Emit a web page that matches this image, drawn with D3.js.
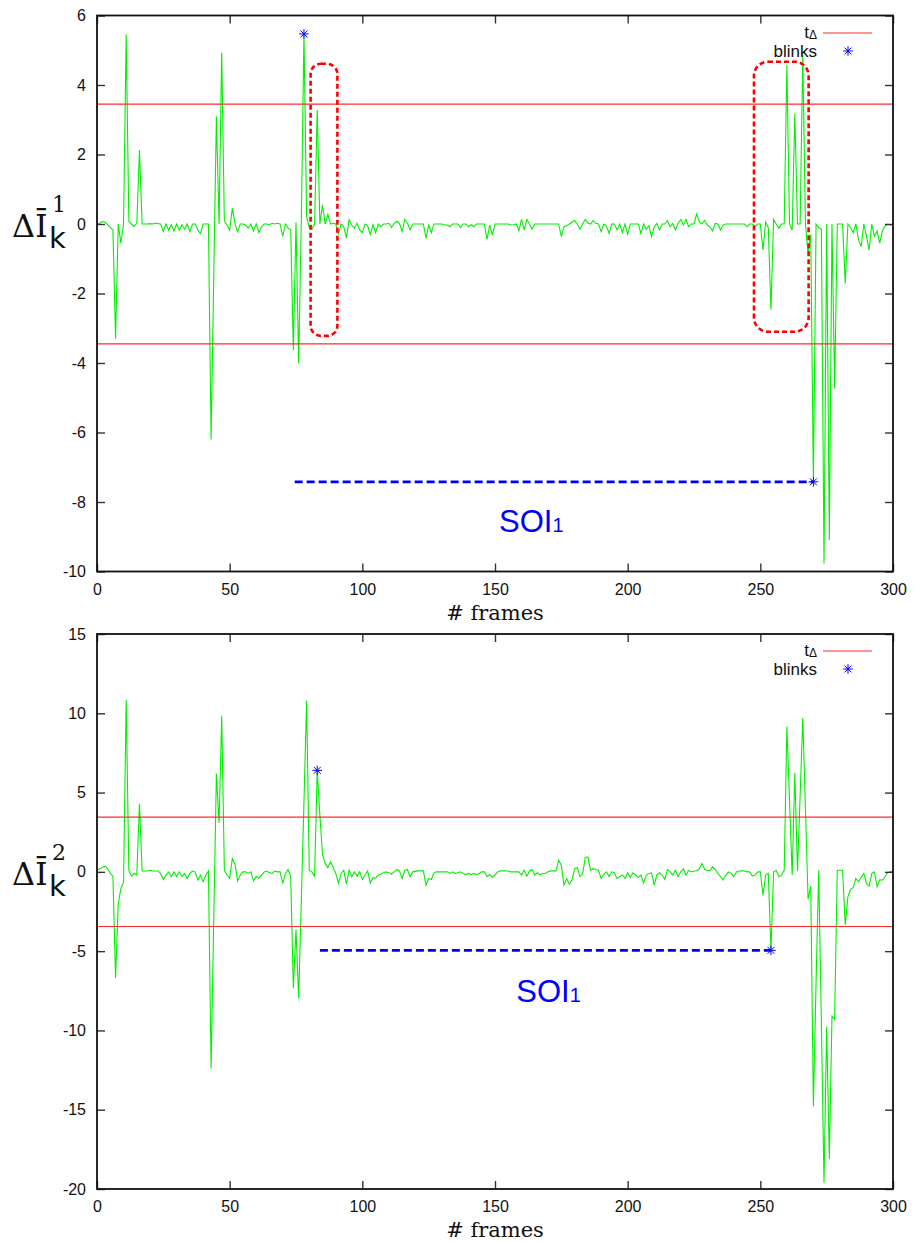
<!DOCTYPE html>
<html><head><meta charset="utf-8">
<script src="https://cdn.jsdelivr.net/npm/d3@7"></script>
<style>body{margin:0;background:#fff}</style>
</head><body>
<svg id="chart" width="915" height="1242"></svg>
<script>
// ---- DATA ----
const xTicks = [0, 50, 100, 150, 200, 250, 300];
const yTicksTop = [-10, -8, -6, -4, -2, 0, 2, 4, 6];
const yTicksBottom = [-20, -15, -10, -5, 0, 5, 10, 15];
const threshold = 3.45;

// mean intensity difference per frame (index = frame number 0..300)
const seriesTop = [
 0,0.02,0.07,0.05,-0.02,-0.1,-0.17,-3.3,0,-0.55,
 0,5.45,0.08,0,-0.07,0.02,2.13,0,0,0,
 0.01,0,0.03,0.01,0,-0.22,0,-0.18,-0.02,-0.2,
 0,-0.18,-0.02,-0.15,0,-0.22,0,0,-0.17,-0.28,
 0,0,0,-6.2,-1.5,3.09,0,4.93,0.08,-0.02,
 -0.18,0.45,0.02,-0.22,0,0,-0.03,-0.12,0,-0.2,
 0,-0.25,-0.08,0,0,-0.02,0.02,0,0.02,0,
 -0.36,0,-0.12,-0.17,-3.63,0.05,-4.01,0.07,5.47,0.2,
 -0.1,-0.15,0,3.28,0,0.55,0,0.28,0,0.02,
 0,-0.3,0,-0.08,-0.4,0.12,-0.03,-0.12,0.02,-0.17,
 -0.25,0,-0.05,-0.3,-0.02,-0.25,0,-0.08,0,0,
 0.02,-0.1,0.02,0.08,0.02,-0.22,0.13,0.02,-0.17,0,
 0,0,0,0,-0.41,-0.03,-0.25,0,0,0,
 0,-0.03,-0.03,-0.08,0,0,0,-0.1,0,0,
 -0.08,-0.02,-0.08,0,0,0,0,-0.44,-0.03,-0.32,
 0,0,0,0,0,0,-0.03,-0.02,0,-0.2,
 0.13,-0.17,0.13,0,-0.15,0,0,0,0,0,
 0,0,0,0,0,-0.36,-0.08,-0.05,0,0.05,
 0.1,0,-0.15,0,0.13,0.03,0,0.1,0.02,0,
 -0.22,0,-0.05,-0.27,0,0,-0.17,0,-0.25,0,
 -0.29,0,0,0,0,-0.27,0,-0.15,-0.05,-0.36,
 -0.08,0.02,-0.17,0,0,0.1,-0.08,0.02,-0.17,0.02,
 0.13,-0.03,0.13,-0.08,0,0,0.29,0.07,0,0.1,
 -0.03,-0.08,-0.2,0.02,0,-0.17,-0.03,0,0,0,
 0,0,0,0,0,-0.08,0,0,-0.08,0,
 0,-0.75,0.05,-0.1,-2.47,0.13,0,-0.12,0,0,
 4.58,0,-0.17,3.18,0,0,4.86,0,-0.85,-0.3,
 -7.42,0,-0.1,-0.15,-9.77,0,-9.09,0,-4.73,0,
 0,0,-1.71,0,-0.1,-0.25,0,-0.45,-0.65,0,
 -0.35,-0.75,0,-0.35,-0.2,-0.55,-0.2,-0.05,0,-0.03,
 0
];

const seriesBottom = [
 0.1,0.2,0.27,0.36,0.2,-0.1,-0.27,-6.7,-2.0,-1.05,
 -0.63,10.84,0.1,-0.27,-0.1,-0.2,4.3,0.05,0.05,0.05,
 0.1,0.05,0.05,0.05,-0.1,-0.48,-0.2,0,-0.3,0,
 -0.3,0,-0.3,-0.1,-0.42,-0.1,0.05,0,-0.52,-0.2,
 -0.63,-0.2,0.05,-12.4,-3.0,6.18,3.08,9.85,0.1,-0.2,
 -0.4,0.84,0.5,-0.57,-0.2,0,0,-0.1,0,-0.57,
 -0.3,-0.4,-0.2,0,0.05,-0.05,-0.1,0.05,0,0,
 -0.73,-0.1,0.15,-0.3,-7.34,-3.63,-7.99,-1.8,4.4,10.8,
 0.1,0,-0.27,6.4,3.56,1.1,0.52,0.27,0.63,0.31,
 -0.1,-0.73,-0.1,0.1,-0.78,0.1,-0.31,0,-0.27,0,
 -0.48,-0.2,0.06,-0.7,-0.35,-0.4,-0.2,-0.15,-0.05,0,
 -0.05,-0.15,0,0.15,0.06,-0.42,0.1,0.15,-0.3,0,
 0.03,0.06,0.06,0.06,-0.84,-0.42,-0.48,-0.06,0,0,
 0,0,0,-0.1,0,-0.1,-0.06,0,-0.1,-0.17,
 -0.1,-0.17,-0.1,-0.17,-0.1,0,0,-0.3,-0.17,-0.35,
 -0.2,0,0.06,0.06,0.06,0.05,0,0,0,0,
 -0.2,0.1,-0.27,0.06,0.15,-0.2,-0.06,-0.2,-0.1,-0.1,
 0,0.06,0.06,0.06,0.73,0.42,-0.84,-0.42,-0.78,-0.52,
 0.2,0.27,-0.3,-0.15,0.9,0.94,0.1,0.2,0.15,0.1,
 -0.42,-0.15,0,-0.3,0,-0.06,-0.42,-0.31,-0.2,-0.42,
 -0.06,-0.36,-0.06,-0.2,-0.36,-0.2,-0.7,-0.2,-0.1,-0.06,
 -0.84,-0.2,-0.06,-0.2,-0.48,0.15,0,-0.2,0.1,-0.31,
 0,0.2,-0.2,0.1,0,0.05,0.06,0.2,0.52,0.15,
 0.1,0.06,0.31,0.15,-0.1,-0.3,-0.52,-0.2,0,-0.1,
 -0.31,0,0.05,0.06,0.05,0,0,-0.27,-0.2,0,
 0,-1.47,-0.2,-0.1,-4.95,0,0.1,-0.31,-0.2,0.1,
 9.16,4.5,-0.2,6.23,0.06,4.8,9.7,4.0,-1.74,-0.9,
 -14.8,-7,0.1,-9.5,-19.6,-9.75,-18.1,-9.1,-9.3,0.1,
 0.1,0.1,-3.35,-1.57,-1.1,-1.0,-0.42,-0.63,-0.36,-0.1,
 -0.73,-0.9,-0.1,0,-0.94,-0.5,-0.52,-0.31,-0.06,0,
 0.06
];

// detected blinks [frame, value]
const blinksTop = [[78, 5.47], [270, -7.42]];
const blinksBottom = [[83, 6.4], [254, -4.95]];
// SOI segments [startFrame, endFrame, level]
const soiTop = [74.5, 270, -7.42];
const soiBottom = [84, 254, -4.95];
// highlighted regions [x0, x1, yLow, yHigh] in data units
const boxesTop = [[80.5, 90.6, -3.22, 4.61], [247.6, 268.2, -3.1, 4.67]];
const boxesBottom = [];
// SOI label anchor [frame, value]
const soiLabelTop = [151.5, -8.86];
const soiLabelBottom = [158, -8.2];

// ---- DRAW ----
const svg = d3.select('#chart');
const GREEN = '#00f000', RED = '#ff2a2a', BLUE = '#0000ff';

function star(g, cx, cy, r) {
  const d = `M${cx-r},${cy}L${cx+r},${cy}M${cx},${cy-r}L${cx},${cy+r}` +
    `M${cx-r*0.72},${cy-r*0.72}L${cx+r*0.72},${cy+r*0.72}M${cx-r*0.72},${cy+r*0.72}L${cx+r*0.72},${cy-r*0.72}`;
  g.append('path').attr('d', d).attr('stroke', BLUE).attr('stroke-width', 1).attr('fill', 'none');
}

function drawPanel(o) {
  const g = svg.append('g');
  const x = d3.scaleLinear().domain([0, 300]).range([97, 893]);
  const y = d3.scaleLinear().domain(o.yDomain).range([o.bottom, o.top]);

  // series
  g.append('path').datum(o.data)
    .attr('d', d3.line().x((d, i) => x(i)).y(d => y(d)))
    .attr('fill', 'none').attr('stroke', GREEN).attr('stroke-width', 1.1)
    .attr('stroke-linejoin', 'miter');

  // thresholds
  [threshold, -threshold].forEach(t => {
    g.append('line').attr('x1', x(0)).attr('x2', x(300)).attr('y1', y(t)).attr('y2', y(t))
      .attr('stroke', RED).attr('stroke-width', 1.1);
  });

  // highlight boxes
  o.boxes.forEach(b => {
    const w = x(b[1]) - x(b[0]);
    g.append('rect').attr('x', x(b[0])).attr('y', y(b[3]))
      .attr('width', w).attr('height', y(b[2]) - y(b[3]))
      .attr('rx', Math.min(14, w / 2.6)).attr('ry', Math.min(14, w / 2.6))
      .attr('fill', 'none').attr('stroke', '#ff0000').attr('stroke-width', 2.6)
      .attr('stroke-dasharray', '5,3');
  });

  // SOI dashed line
  g.append('line').attr('x1', x(o.soi[0])).attr('x2', x(o.soi[1]))
    .attr('y1', y(o.soi[2])).attr('y2', y(o.soi[2]))
    .attr('stroke', BLUE).attr('stroke-width', 2.6).attr('stroke-dasharray', '8,4');

  // blinks
  o.blinks.forEach(b => star(g, x(b[0]), y(b[1]), 4.8));

  // SOI label
  const t = g.append('text').attr('x', x(o.soiLabel[0])).attr('y', y(o.soiLabel[1]))
    .attr('font-family', 'Liberation Sans, Arial, sans-serif').attr('font-size', 31).attr('fill', BLUE);
  t.append('tspan').text('SOI');
  t.append('tspan').attr('font-size', 20).text('1');

  // axes (inward ticks, mirrored)
  const fontF = 'Liberation Sans, Arial, sans-serif';
  const fmt = d => String(d);
  g.append('g').attr('transform', `translate(0,${o.bottom})`)
    .call(d3.axisBottom(x).tickValues(xTicks).tickSizeInner(-8).tickSizeOuter(0).tickPadding(12).tickFormat(fmt));
  g.append('g').attr('transform', `translate(0,${o.top})`)
    .call(d3.axisTop(x).tickValues(xTicks).tickSizeInner(-8).tickSizeOuter(0).tickFormat(''));
  g.append('g').attr('transform', `translate(97,0)`)
    .call(d3.axisLeft(y).tickValues(o.yTicks).tickSizeInner(-8).tickSizeOuter(0).tickPadding(11).tickFormat(fmt));
  g.append('g').attr('transform', `translate(893,0)`)
    .call(d3.axisRight(y).tickValues(o.yTicks).tickSizeInner(-8).tickSizeOuter(0).tickFormat(''));
  g.selectAll('.domain').remove();
  g.selectAll('.tick line').attr('stroke', '#333').attr('stroke-width', 1.4);
  g.selectAll('.tick text').attr('font-family', fontF).attr('font-size', 16).attr('fill', '#111');

  // border
  g.append('rect').attr('x', 97).attr('y', o.top).attr('width', 796).attr('height', o.bottom - o.top)
    .attr('fill', 'none').attr('stroke', '#111').attr('stroke-width', 1.8);

  // x label
  g.append('text').attr('x', 495).attr('y', o.bottom + 48).attr('text-anchor', 'middle')
    .attr('font-family', 'DejaVu Serif, serif').attr('font-size', 21).attr('fill', '#111').text('# frames');

  // y label  ΔĪ_k^n
  const cy = y(0);
  const yl = g.append('g').attr('fill', '#111');
  yl.append('text').attr('x', 12).attr('y', cy + 13)
    .attr('font-family', 'DejaVu Serif, serif').attr('font-size', 32).text('ΔĪ');
  yl.append('text').attr('x', 49).attr('y', cy + 24)
    .attr('font-family', 'DejaVu Sans, sans-serif').attr('font-size', 29).text('k');
  yl.append('text').attr('x', 52).attr('y', cy - 12)
    .attr('font-family', 'DejaVu Serif, serif').attr('font-size', 22).text(o.sup);

  // legend
  const lx = 817, ly1 = Math.round(o.top + 17), ly2 = Math.round(o.top + 35);
  const lt = g.append('text').attr('x', lx).attr('y', ly1 + 5).attr('text-anchor', 'end')
    .attr('font-family', fontF).attr('font-size', 17).attr('fill', '#111');
  lt.append('tspan').text('t');
  lt.append('tspan').attr('font-size', 12).attr('dy', 1).text('Δ');
  g.append('line').attr('x1', 823).attr('x2', 872).attr('y1', ly1).attr('y2', ly1)
    .attr('stroke', RED).attr('stroke-width', 1.2);
  g.append('text').attr('x', lx).attr('y', ly2 + 6).attr('text-anchor', 'end')
    .attr('font-family', fontF).attr('font-size', 17).attr('fill', '#111').text('blinks');
  star(g, 848, ly2, 4.8);
}

drawPanel({data: seriesTop, yDomain: [-10, 6], yTicks: yTicksTop, top: 15.5, bottom: 571.5,
  blinks: blinksTop, soi: soiTop, boxes: boxesTop, soiLabel: soiLabelTop, sup: '1'});
drawPanel({data: seriesBottom, yDomain: [-20, 15], yTicks: yTicksBottom, top: 634, bottom: 1189,
  blinks: blinksBottom, soi: soiBottom, boxes: boxesBottom, soiLabel: soiLabelBottom, sup: '2'});
</script>
</body></html>
